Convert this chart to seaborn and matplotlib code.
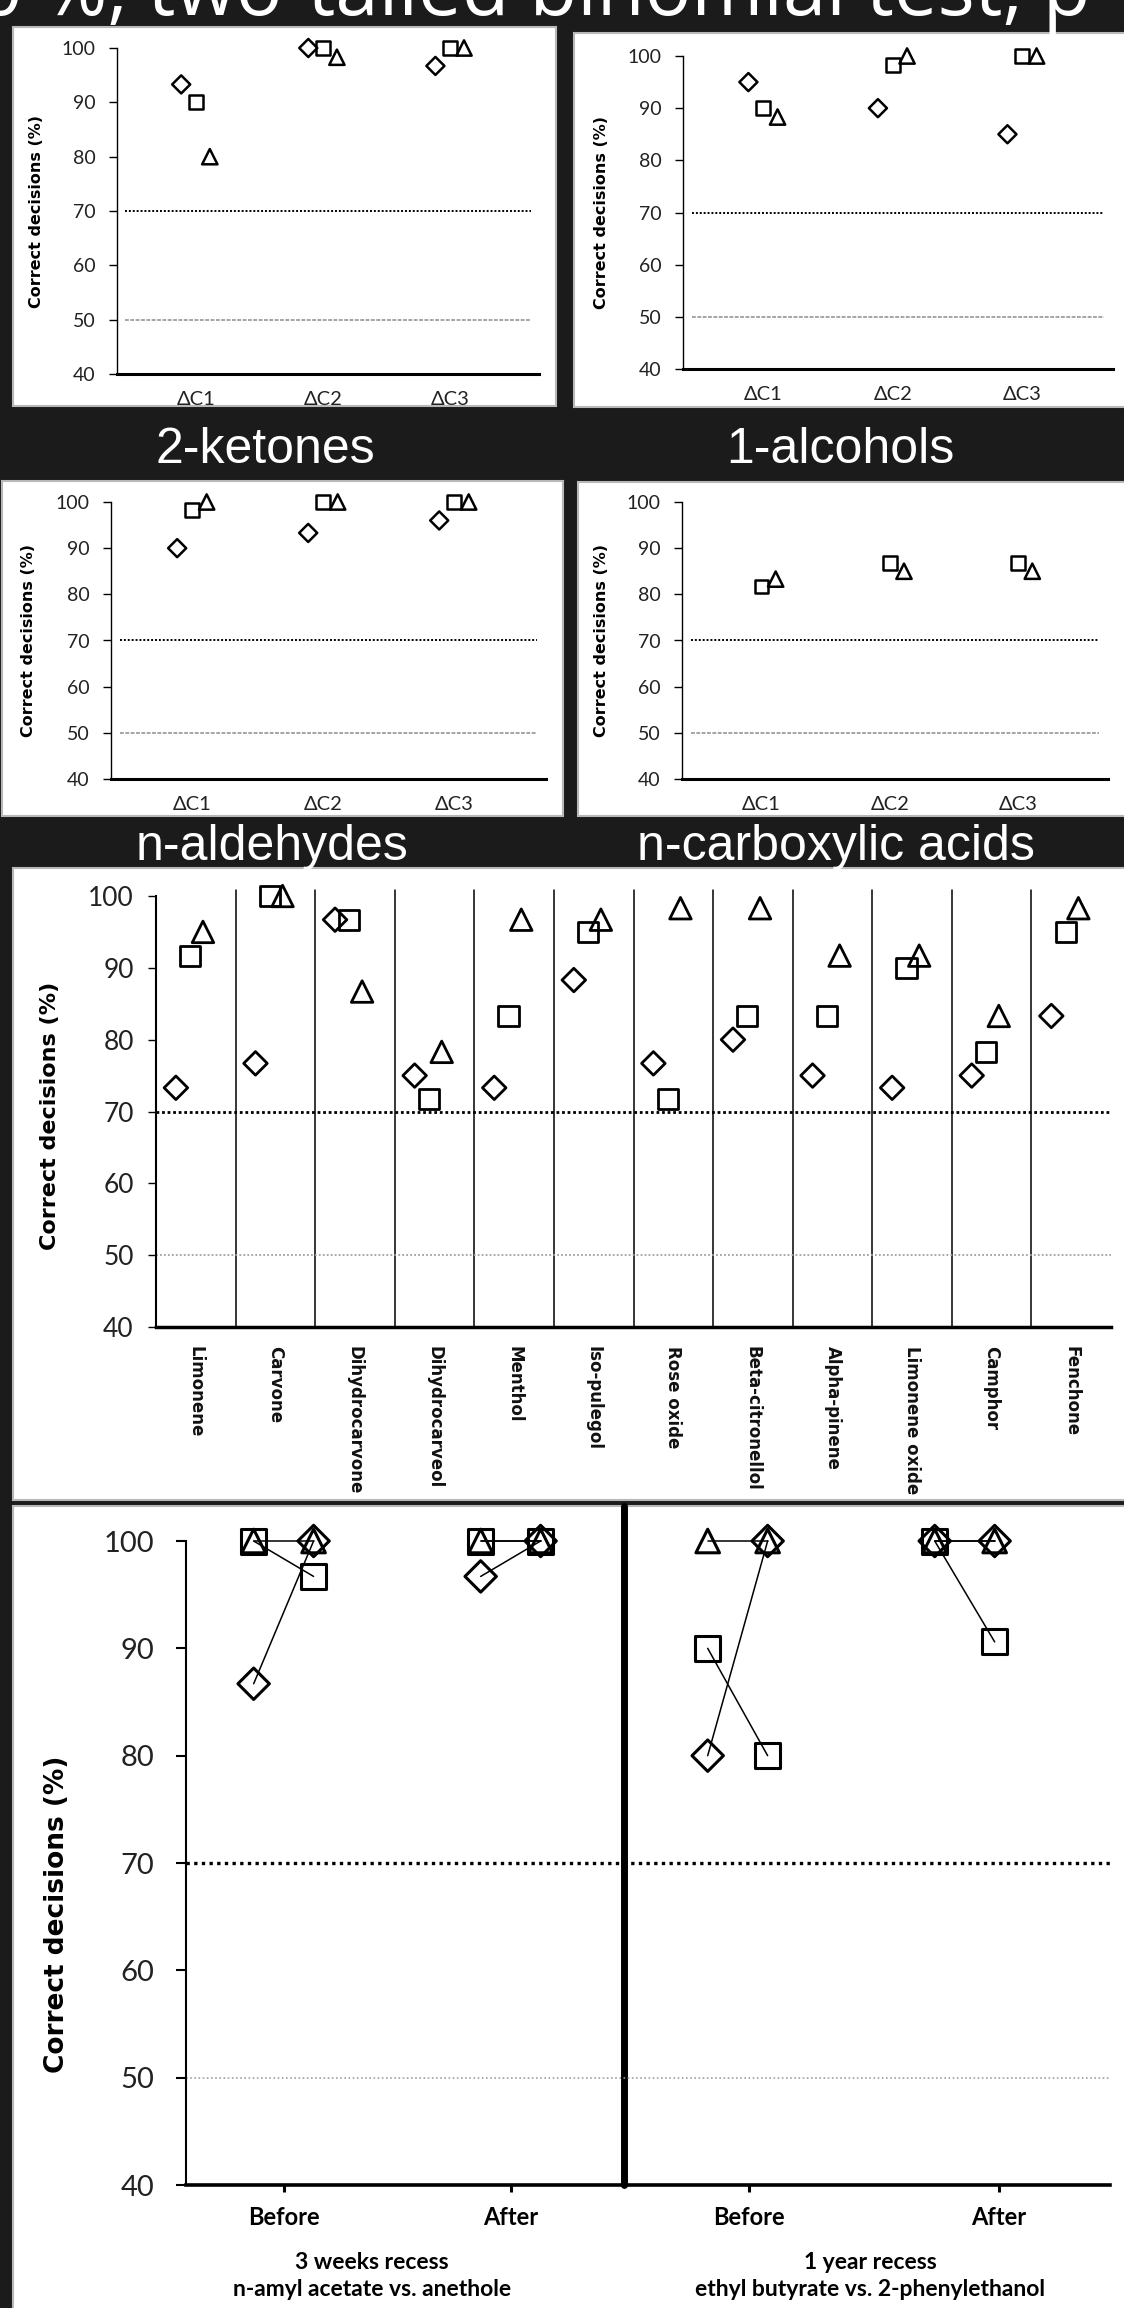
import numpy as np
import pandas as pd
import seaborn as sns
import matplotlib.pyplot as plt
from matplotlib.patches import Rectangle

W, H = 1124, 2308

# ---------------- data ----------------
series = ['diamond', 'square', 'triangle']
delta_labels = ['ΔC1', 'ΔC2', 'ΔC3']

ketones_diamond = [93.3, 100, 96.7]
ketones_square = [90, 100, 100]
ketones_triangle = [80, 98.3, 100]

alcohols_diamond = [95, 90, 85]
alcohols_square = [90, 98.3, 100]
alcohols_triangle = [88.3, 100, 100]

aldehydes_diamond = [90, 93.3, 96]
aldehydes_square = [98.3, 100, 100]
aldehydes_triangle = [100, 100, 100]

acids_diamond = [np.nan, np.nan, np.nan]
acids_square = [81.7, 86.7, 86.7]
acids_triangle = [83.3, 85, 85]

terpenes = ['Limonene', 'Carvone', 'Dihydrocarvone', 'Dihydrocarveol', 'Menthol',
            'Iso-pulegol', 'Rose oxide', 'Beta-citronellol', 'Alpha-pinene',
            'Limonene oxide', 'Camphor', 'Fenchone']
terp_diamond = [73.3, 76.7, 96.7, 75, 73.3, 88.3, 76.7, 80, 75, 73.3, 75, 83.3]
terp_square = [91.7, 100, 96.7, 71.7, 83.3, 95, 71.7, 83.3, 83.3, 90, 78.3, 95]
terp_triangle = [95, 100, 86.7, 78.3, 96.7, 96.7, 98.3, 98.3, 91.7, 91.7, 83.3, 98.3]

sessions = ['Before', 'After', 'Before', 'After']
recess_groups = ['3 weeks recess\nn-amyl acetate vs. anethole',
                 '1 year recess\nethyl butyrate vs. 2-phenylethanol']
rec_diamond_1 = [86.7, 96.7, 80, 100]
rec_diamond_2 = [100, 100, 100, 100]
rec_square_1 = [100, 100, 90, 100]
rec_square_2 = [96.7, 100, 80, 90.6]
rec_triangle_1 = [100, 100, 100, 100]
rec_triangle_2 = [100, 100, 100, 100]

# ---------------- style ----------------
marker_shapes = {'diamond': 'D', 'square': 's', 'triangle': '^'}
small_ms = {'diamond': 9.2, 'square': 10.0, 'triangle': 11.0}
terp_ms = {'diamond': 12.0, 'square': 14.5, 'triangle': 15.5}
rec_ms = {'diamond': 16.0, 'square': 18.0, 'triangle': 17.0}
small_offsets = {'diamond': -0.115, 'square': 0.0, 'triangle': 0.11}
terp_offsets = {'diamond': -0.25, 'square': -0.07, 'triangle': 0.09}
phase_offsets = {1: -0.132, 2: 0.132}
session_ticks = [0, 1, 2.05, 3.15]

sns.set_theme(style='white')
plt.rcParams['font.family'] = ['Lato', 'DejaVu Sans']

fig = plt.figure(figsize=(W / 100, H / 100), dpi=100, facecolor='#1b1b1b')


def panel_box(x0, y0, x1, y1):
    fig.patches.append(Rectangle((x0 / W, 1 - y1 / H), (x1 - x0) / W, (y1 - y0) / H,
                                 transform=fig.transFigure, facecolor='white',
                                 edgecolor='#b8b8b8', linewidth=1.5, zorder=-1))


def axes_px(left, top, right, bottom):
    ax = fig.add_axes([left / W, 1 - bottom / H, (right - left) / W, (bottom - top) / H])
    ax.set_facecolor('none')
    return ax


def long_table(cats, d, s, t):
    rows = []
    for name, vals in zip(series, [d, s, t]):
        for i, (c, v) in enumerate(zip(cats, vals)):
            rows.append({'cat': c, 'idx': i, 'series': name, 'value': v})
    return pd.DataFrame(rows).dropna()


def draw_points(ax, df, sizes, lw):
    for name in series:
        sub = df[df['series'] == name]
        if len(sub) == 0:
            continue
        sns.scatterplot(data=sub, x='xpos', y='value', marker=marker_shapes[name],
                        s=sizes[name] ** 2, color='black', facecolor='none',
                        edgecolor='black', linewidth=lw, clip_on=False, zorder=5,
                        legend=False, ax=ax)


def base_axes(ax, left_lw, bottom_lw, tick_len, tick_size, pad):
    sns.despine(ax=ax)
    ax.spines['left'].set_linewidth(left_lw)
    ax.spines['bottom'].set_linewidth(bottom_lw)
    ax.spines['left'].set_color('black')
    ax.spines['bottom'].set_color('black')
    ax.set_ylim(40, 100)
    ax.set_yticks(range(40, 101, 10))
    ax.tick_params(axis='y', left=True, direction='out', length=tick_len, width=1,
                   color='black', labelsize=tick_size, pad=pad, labelcolor='#222222')
    ax.set_xlabel('')
    ax.grid(False)


def small_panel(box, frame, d, s, t, title, title_x, title_y):
    panel_box(*box)
    ax = axes_px(*frame)
    df = long_table(delta_labels, d, s, t)
    df['xpos'] = df['idx'] + df['series'].map(small_offsets)
    draw_points(ax, df, small_ms, 1.8)
    ax.axhline(70, xmin=0.02, xmax=0.98, color='black', lw=1.4, ls=(0, (1, 1)))
    ax.axhline(50, xmin=0.02, xmax=0.98, color='#8c8c8c', lw=1.1, ls=(0, (2.5, 1)))
    ax.set_xlim(-0.62, 2.7)
    base_axes(ax, 1.0, 2.2, 5.5, 14, 10)
    ax.set_xticks(range(3))
    ax.set_xticklabels(delta_labels)
    ax.tick_params(axis='x', bottom=False, labelsize=14.5, pad=6, labelcolor='#222222')
    ax.set_ylabel('Correct decisions (%)', fontfamily='DejaVu Sans', fontweight='bold',
                  fontsize=11.5, color='black')
    ax.yaxis.set_label_coords(-0.172, 0.5)
    fig.text(title_x / W, 1 - title_y / H, title, color='white', fontsize=36,
             fontfamily='Liberation Sans', ha='center', va='baseline')
    return ax


# top caption (cut off by the figure edge, as in the original slide)
fig.text(-66 / W, 1 - 15 / H, '70 %, two-tailed binomial test, p < 0.05', color='white',
         fontsize=56, fontfamily='Open Sans', ha='left', va='baseline')

small_panel((13, 27, 556, 406), (117, 48, 539, 374),
            ketones_diamond, ketones_square, ketones_triangle, '2-ketones', 265, 463)
small_panel((574, 33, 1126, 407), (683, 56, 1113, 369),
            alcohols_diamond, alcohols_square, alcohols_triangle, '1-alcohols', 840, 463)
small_panel((2, 481, 563, 816), (111, 502, 546, 779),
            aldehydes_diamond, aldehydes_square, aldehydes_triangle, 'n-aldehydes', 272, 860)
small_panel((578, 482, 1126, 816), (682, 502, 1108, 779),
            acids_diamond, acids_square, acids_triangle, 'n-carboxylic acids', 836, 860)

# ---------------- terpenes ----------------
panel_box(13, 868, 1126, 1500)
ax5 = axes_px(156, 896, 1111, 1327)
df5 = long_table(terpenes, terp_diamond, terp_square, terp_triangle)
df5['xpos'] = df5['idx'] + df5['series'].map(terp_offsets)
draw_points(ax5, df5, terp_ms, 2.0)
for b in np.arange(len(terpenes) - 1) + 0.5:
    ax5.axvline(b, ymin=0, ymax=1.013, color='black', lw=1.1, clip_on=False)
ax5.axhline(70, color='black', lw=2.0, ls=(0, (1, 1)))
ax5.axhline(50, color='#a0a0a0', lw=1.3, ls=(0, (1, 1.2)))
ax5.set_xlim(-0.5, len(terpenes) - 0.5)
base_axes(ax5, 1.5, 2.5, 6, 19, 10)
ax5.set_xticks(range(len(terpenes)))
ax5.set_xticklabels(terpenes, rotation=-90, fontfamily='DejaVu Sans', fontweight='bold',
                    fontsize=12, va='top', ha='center')
ax5.tick_params(axis='x', bottom=False, pad=8, labelcolor='#111111')
ax5.set_ylabel('Correct decisions (%)', fontfamily='DejaVu Sans', fontweight='bold',
               fontsize=16, color='black')
ax5.yaxis.set_label_coords(-0.10, 0.49)

# ---------------- recess ----------------
panel_box(13, 1506, 1126, 2310)
ax6 = axes_px(186, 1541, 1110, 2185)
rows = []
for name, first, second in zip(series, [rec_diamond_1, rec_square_1, rec_triangle_1],
                               [rec_diamond_2, rec_square_2, rec_triangle_2]):
    for i in range(len(sessions)):
        rows.append({'idx': i, 'phase': 1, 'series': name, 'value': first[i], 'pair': f'{name}{i}'})
        rows.append({'idx': i, 'phase': 2, 'series': name, 'value': second[i], 'pair': f'{name}{i}'})
df6 = pd.DataFrame(rows)
df6['xpos'] = df6['idx'] + df6['phase'].map(phase_offsets)
sns.lineplot(data=df6, x='xpos', y='value', units='pair', estimator=None, color='black',
             lw=1.1, legend=False, clip_on=False, ax=ax6)
draw_points(ax6, df6, rec_ms, 2.2)
ax6.axvline(1.5, ymin=0, ymax=1.054, color='black', lw=5, clip_on=False)
ax6.axhline(70, color='black', lw=2.4, ls=(0, (1, 1.3)))
ax6.axhline(50, color='#a0a0a0', lw=1.2, ls=(0, (1, 1.5)))
ax6.set_xlim(-0.43, 3.64)
base_axes(ax6, 1.5, 2.6, 7, 21, 16)
ax6.tick_params(axis='y', width=1.5)
ax6.set_xticks(session_ticks)
ax6.set_xticklabels(sessions, fontweight='bold')
ax6.tick_params(axis='x', bottom=True, direction='out', length=5, width=2.2,
                labelsize=17, pad=10, color='black', labelcolor='black')
ax6.set_ylabel('Correct decisions (%)', fontfamily='DejaVu Sans', fontweight='bold',
               fontsize=19, color='black')
ax6.yaxis.set_label_coords(-0.126, 0.42)
for gx, label in zip([372, 870], recess_groups):
    fig.text(gx / W, 1 - 2276 / H, label, ha='center', va='center', fontsize=16.5,
             fontweight='bold', color='black', linespacing=1.35)

fig.savefig('out.png', dpi=100, facecolor=fig.get_facecolor())
